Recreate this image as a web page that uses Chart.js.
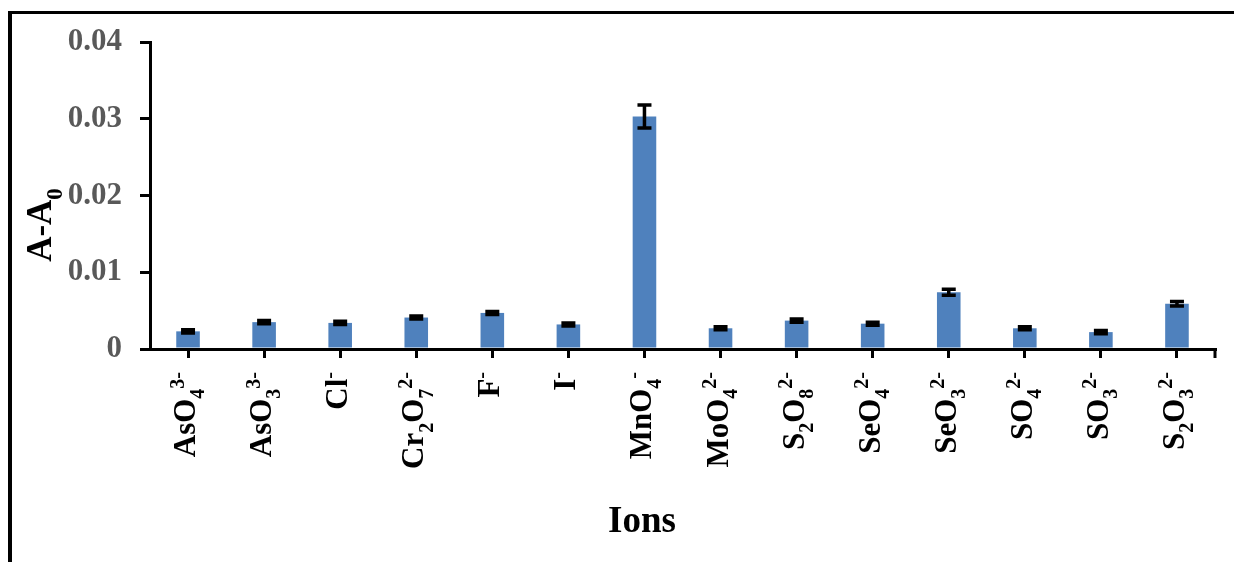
<!DOCTYPE html>
<html>
<head>
<meta charset="utf-8">
<script src="https://cdn.jsdelivr.net/npm/chart.js@4.4.1/dist/chart.umd.min.js"></script>
<style>
html, body { margin: 0; padding: 0; background: #fff; }
#wrap { width: 1234px; height: 562px; }
</style>
</head>
<body>
<div id="wrap"><canvas id="ionChart" width="1234" height="562"></canvas></div>
<script>
// _{..} = subscript, ^{..} = superscript
var ions = ["AsO_{4}^{3-}", "AsO_{3}^{3-}", "Cl^{-}", "Cr_{2}O_{7}^{2-}", "F^{-}", "I^{-}", "MnO_{4}^{-}",
    "MoO_{4}^{2-}", "S_{2}O_{8}^{2-}", "SeO_{4}^{2-}", "SeO_{3}^{2-}", "SO_{4}^{2-}", "SO_{3}^{2-}", "S_{2}O_{3}^{2-}"];
var deltaA = [0.0023, 0.0035, 0.0034, 0.0041, 0.0047, 0.0032, 0.0303, 0.0027, 0.0037, 0.0033, 0.0074, 0.0027, 0.0022, 0.0059];
var errA = [0.0002, 0.0002, 0.0002, 0.0002, 0.0002, 0.0002, 0.0015, 0.0002, 0.0002, 0.0002, 0.0004, 0.0002, 0.0002, 0.0003];
var yTicks = [0, 0.01, 0.02, 0.03, 0.04];
var xTitle = "Ions";
var yTitle = "A-A_{0}";

var serif = "'Liberation Serif', 'Times New Roman', serif";

var splitRich = function(s) {
    var out = [], re = /([_^])\{([^}]*)\}|([^_^]+)/g, m;
    while ((m = re.exec(s))) {
        if (m[3]) out.push({ t: m[3], k: "n" });
        else out.push({ t: m[2], k: m[1] == "_" ? "sub" : "sup" });
    }
    return out;
};

// text with sub/superscripts along local x, starting at x=0, baseline at y=0
var drawRich = function(ctx, s, fs, measureOnly) {
    var parts = splitRich(s), x = 0;
    parts.forEach(function(p) {
        var size = p.k == "n" ? fs : Math.round(fs * 0.65);
        var dy = p.k == "sub" ? fs * 0.3 : (p.k == "sup" ? -fs * 0.37 : 0);
        ctx.font = "bold " + size + "px " + serif;
        if (!measureOnly) ctx.fillText(p.t, x, dy);
        x += ctx.measureText(p.t).width;
    });
    return x;
};

var extras = {
    id: "extras",
    afterDatasetsDraw: function(chart) {
        var ctx = chart.ctx, y = chart.scales.y, meta = chart.getDatasetMeta(0);
        ctx.save();
        ctx.strokeStyle = "#000";
        ctx.lineWidth = 3.5;
        meta.data.forEach(function(bar, i) {
            var hi = y.getPixelForValue(deltaA[i] + errA[i]), lo = y.getPixelForValue(deltaA[i] - errA[i]);
            ctx.beginPath();
            ctx.moveTo(bar.x, hi); ctx.lineTo(bar.x, lo);
            ctx.moveTo(bar.x - 7, hi); ctx.lineTo(bar.x + 7, hi);
            ctx.moveTo(bar.x - 7, lo); ctx.lineTo(bar.x + 7, lo);
            ctx.stroke();
        });
        ctx.restore();
    },
    afterDraw: function(chart) {
        var ctx = chart.ctx, x = chart.scales.x, area = chart.chartArea;
        ctx.save();
        ctx.fillStyle = "#000";
        ctx.textBaseline = "alphabetic";
        ctx.textAlign = "left";
        // end tick on the x axis
        ctx.fillRect(area.right - 1.5, area.bottom, 3, 9);
        // category labels, rotated
        ions.forEach(function(lbl, i) {
            var px = x.getPixelForTick(i);
            var w = drawRich(ctx, lbl, 31, true);
            ctx.save();
            ctx.translate(px + 7, area.bottom + 23 + w);
            ctx.rotate(-Math.PI / 2);
            drawRich(ctx, lbl, 31);
            ctx.restore();
        });
        // y title
        var wy = drawRich(ctx, yTitle, 35, true);
        ctx.save();
        ctx.translate(51, 225 + wy / 2);
        ctx.rotate(-Math.PI / 2);
        drawRich(ctx, yTitle, 35);
        ctx.restore();
        // x title
        ctx.font = "bold 37px " + serif;
        ctx.textAlign = "center";
        ctx.fillText(xTitle, 642, 532);
        // frame
        ctx.fillRect(8, 11, 4, 551);
        ctx.fillRect(8, 11, 1226, 3);
        ctx.restore();
    }
};

window.ionChart = new Chart(document.getElementById("ionChart"), {
    type: "bar",
    data: {
        labels: ions,
        datasets: [{
            data: deltaA,
            backgroundColor: "#4f81bd",
            borderWidth: 0,
            barPercentage: 0.31,
            categoryPercentage: 1
        }]
    },
    options: {
        responsive: false,
        animation: false,
        devicePixelRatio: 1,
        layout: { padding: { top: 42, right: 19, left: 0, bottom: 0 } },
        plugins: { legend: { display: false }, tooltip: { enabled: false } },
        scales: {
            x: {
                grid: { display: true, drawOnChartArea: false, offset: false, color: "#000", lineWidth: 3, tickLength: 9 },
                border: { color: "#000", width: 3 },
                ticks: { display: false },
                afterFit: function(s) { s.height = 213; }
            },
            y: {
                min: 0,
                max: 0.04,
                afterBuildTicks: function(s) { s.ticks = yTicks.map(function(v) { return { value: v }; }); },
                grid: { display: true, drawOnChartArea: false, color: "#000", lineWidth: 3, tickLength: 10 },
                border: { color: "#000", width: 3 },
                ticks: {
                    padding: 18,
                    color: "#595959",
                    font: { family: serif, size: 31, weight: "bold" },
                    callback: function(v) { return String(+v.toFixed(2)); }
                },
                afterFit: function(s) { s.width = 150; }
            }
        }
    },
    plugins: [extras]
});
</script>
</body>
</html>
